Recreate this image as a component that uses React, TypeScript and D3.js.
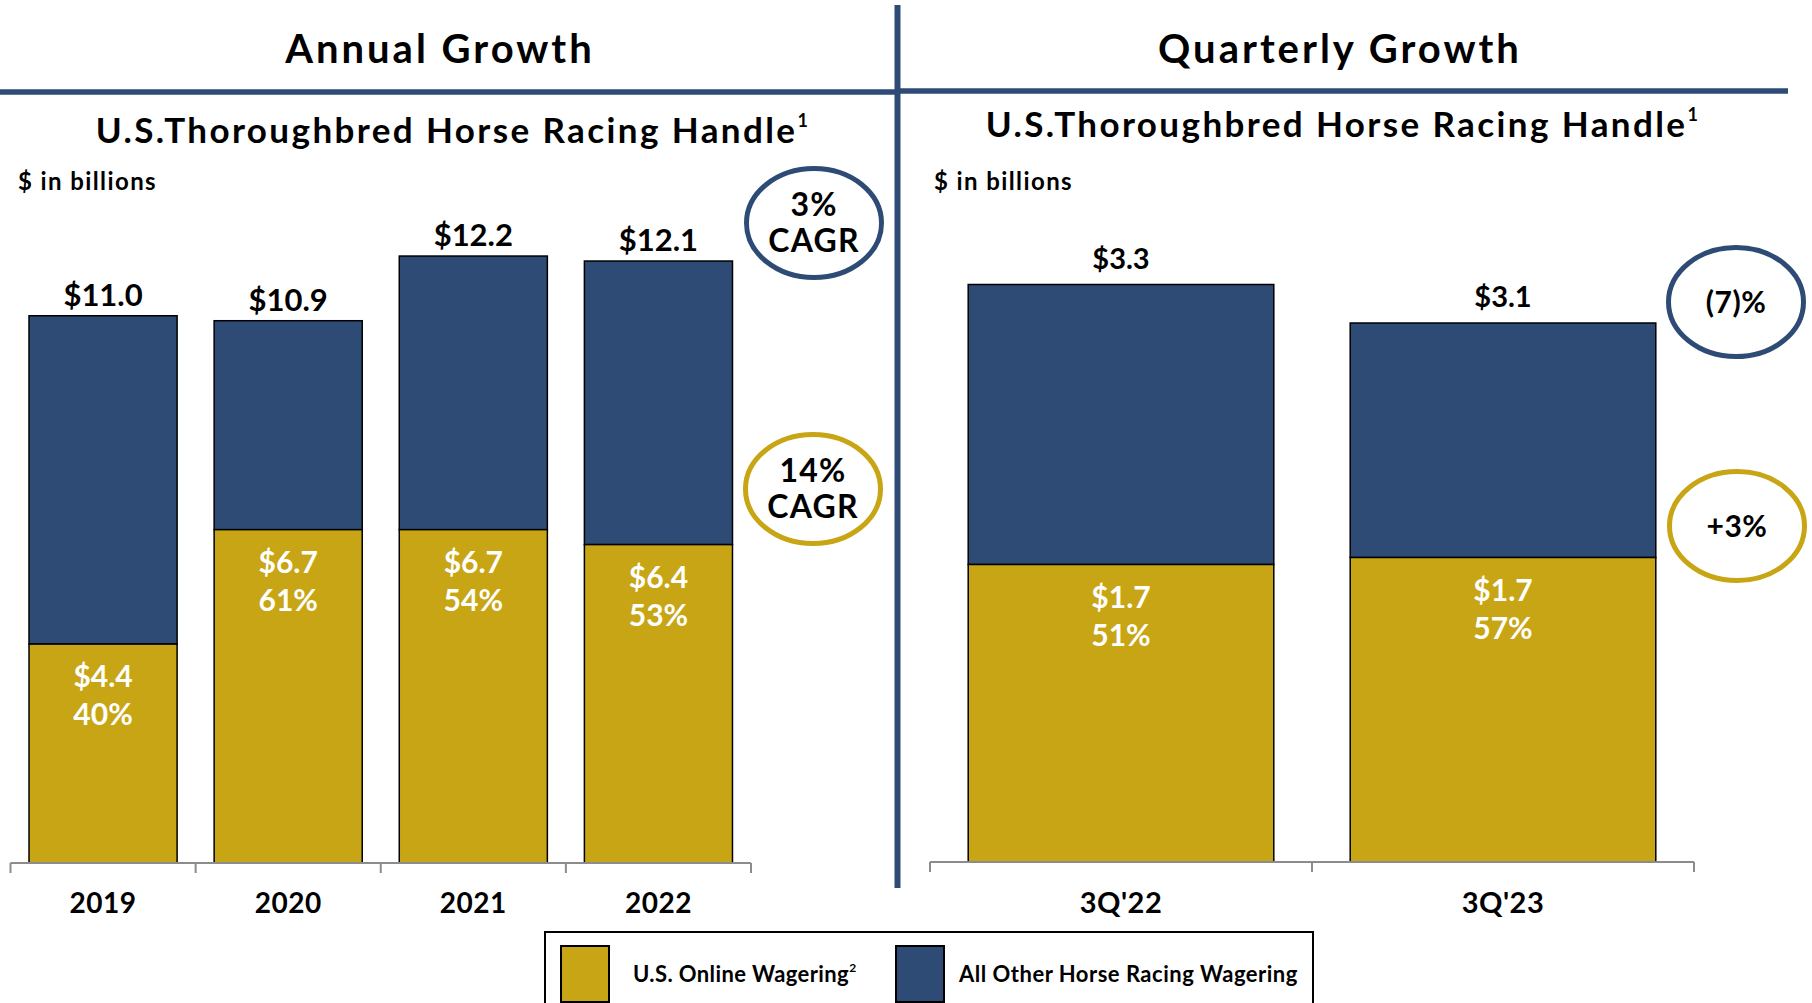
import React from "react";
import * as d3 from "d3";

const years = ["2019", "2020", "2021", "2022"];
const annualTotal = [11.0, 10.9, 12.2, 12.1];
const annualOnline = [4.4, 6.7, 6.7, 6.4];
const annualShare = ["40%", "61%", "54%", "53%"];

const quarters = ["3Q'22", "3Q'23"];
const quarterTotal = [3.3, 3.08];
const quarterOnline = [1.7, 1.74];
const quarterShare = ["51%", "57%"];

const legendLabels = ["U.S. Online Wagering", "All Other Horse Racing Wagering"];

const GOLD = "#C8A514";
const NAVY = "#2D4B75";
const FONT = "'Gill Sans MT', 'Gill Sans', Lato, sans-serif";
const money = d3.format("$.1f");

type PanelProps = {
  cats: string[];
  total: number[];
  online: number[];
  share: string[];
  x0: number;
  x1: number;
  base: number;
  pxPerUnit: number;
  topGap: number;
  totalSize: number;
  catSize: number;
};

const Panel = ({ cats, total, online, share, x0, x1, base, pxPerUnit, topGap, totalSize, catSize }: PanelProps) => {
  const x = d3.scaleBand().domain(cats).range([x0, x1]).paddingInner(0.2).paddingOuter(0.1);
  const maxV = d3.max(total) as number;
  const y = d3.scaleLinear().domain([0, maxV]).range([base, base - maxV * pxPerUnit]);
  const bw = x.bandwidth();
  const edges = d3.range(cats.length + 1).map(i => x0 + i * x.step());

  return (
    <g>
      {cats.map((c, i) => {
        const bx = x(c) as number;
        const cx = bx + bw / 2;
        return (
          <g key={c}>
            <rect x={bx} y={y(total[i])} width={bw} height={y(online[i]) - y(total[i])} fill={NAVY} stroke="#000" strokeWidth={1.5} />
            <rect x={bx} y={y(online[i])} width={bw} height={y(0) - y(online[i])} fill={GOLD} stroke="#000" strokeWidth={1.5} />
            <text x={cx} y={y(total[i]) - topGap} textAnchor="middle" fontSize={totalSize} fontWeight="bold" fill="#000">
              {money(total[i])}
            </text>
            <text x={cx} y={y(online[i]) + 43} textAnchor="middle" fontSize={30} fontWeight="bold" fill="#fff">
              {money(online[i])}
            </text>
            <text x={cx} y={y(online[i]) + 81} textAnchor="middle" fontSize={30} fontWeight="bold" fill="#fff">
              {share[i]}
            </text>
            <text x={cx} y={913} textAnchor="middle" fontSize={catSize} fontWeight="bold" letterSpacing={0.5} fill="#000">
              {c}
            </text>
          </g>
        );
      })}
      <line x1={x0} x2={x1} y1={base} y2={base} stroke="#8c8c8c" strokeWidth={2} />
      {edges.map((e, i) => (
        <line key={i} x1={e} x2={e} y1={base} y2={base + 10} stroke="#8c8c8c" strokeWidth={2} />
      ))}
    </g>
  );
};

const Badge = ({ cx, cy, color, lines }: { cx: number; cy: number; color: string; lines: string[] }) => (
  <g>
    <ellipse cx={cx} cy={cy} rx={67.5} ry={54.5} fill="#fff" stroke={color} strokeWidth={5} />
    {lines.length === 1 ? (
      <text x={cx} y={cy + 11} textAnchor="middle" fontSize={30} fontWeight="bold" letterSpacing={0.5}>{lines[0]}</text>
    ) : (
      lines.map((l, i) => (
        <text key={i} x={cx} y={cy - 7 + i * 36} textAnchor="middle" fontSize={32} fontWeight="bold" letterSpacing={1.2}>{l}</text>
      ))
    )}
  </g>
);

const Subtitle = ({ x, y }: { x: number; y: number }) => (
  <text x={x} y={y} textAnchor="middle" fontSize={35} fontWeight="bold" letterSpacing={2.4}>
    U.S.Thoroughbred Horse Racing Handle
    <tspan fontSize={18} dy={-16}>1</tspan>
  </text>
);

export default function App() {
  return (
    <svg width={1812} height={1003} style={{ position: "absolute", left: 0, top: 0, background: "#fff" }} fontFamily={FONT}>
      <text x={440} y={63} textAnchor="middle" fontSize={40} fontWeight="bold" letterSpacing={3}>Annual Growth</text>
      <text x={1340} y={63} textAnchor="middle" fontSize={40} fontWeight="bold" letterSpacing={3}>Quarterly Growth</text>
      <line x1={0} x2={897} y1={92} y2={92} stroke={NAVY} strokeWidth={5.5} />
      <line x1={897} x2={1788} y1={91} y2={91} stroke={NAVY} strokeWidth={5.5} />
      <line x1={897.5} x2={897.5} y1={5} y2={888} stroke={NAVY} strokeWidth={6} />

      <Subtitle x={453} y={143} />
      <Subtitle x={1343} y={137} />
      <text x={18} y={190} fontSize={24} fontWeight="bold" letterSpacing={1.4}>$ in billions</text>
      <text x={934} y={190} fontSize={24} fontWeight="bold" letterSpacing={1.4}>$ in billions</text>

      <Panel cats={years} total={annualTotal} online={annualOnline} share={annualShare}
        x0={10.5} x1={751} base={863} pxPerUnit={49.75} topGap={10} totalSize={31} catSize={28} />
      <Panel cats={quarters} total={quarterTotal} online={quarterOnline} share={quarterShare}
        x0={930} x1={1694} base={862} pxPerUnit={175} topGap={16} totalSize={29} catSize={29} />

      <Badge cx={814} cy={223} color={NAVY} lines={["3%", "CAGR"]} />
      <Badge cx={813} cy={489} color={GOLD} lines={["14%", "CAGR"]} />
      <Badge cx={1736} cy={302} color={NAVY} lines={["(7)%"]} />
      <Badge cx={1737} cy={526} color={GOLD} lines={["+3%"]} />

      <rect x={545} y={932} width={768} height={90} fill="#fff" stroke="#000" strokeWidth={2} />
      <rect x={561} y={946} width={48} height={56} fill={GOLD} stroke="#000" strokeWidth={2} />
      <rect x={896} y={946} width={48} height={56} fill={NAVY} stroke="#000" strokeWidth={2} />
      <text x={633} y={982} fontSize={22} fontWeight="bold" letterSpacing={0.4}>
        {legendLabels[0]}
        <tspan fontSize={12} dy={-10}>2</tspan>
      </text>
      <text x={959} y={982} fontSize={22} fontWeight="bold" letterSpacing={0.5}>{legendLabels[1]}</text>
    </svg>
  );
}
